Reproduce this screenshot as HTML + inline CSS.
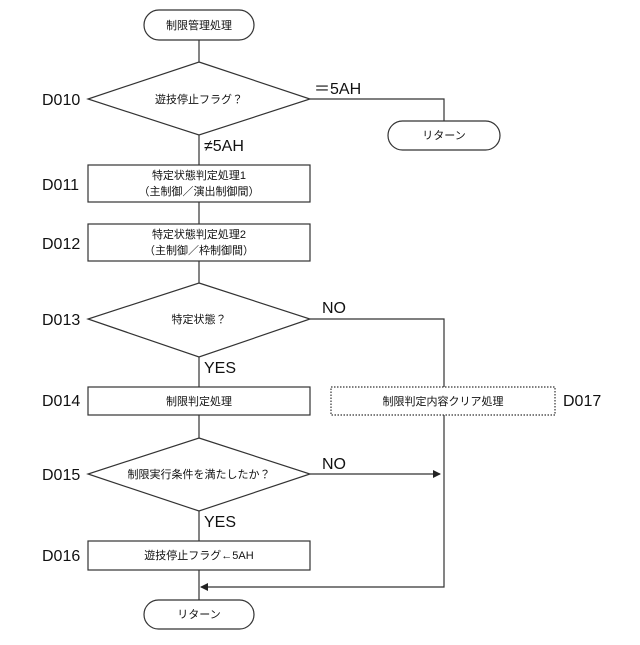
<!DOCTYPE html>
<html><head><meta charset="utf-8"><style>
html,body{margin:0;padding:0;background:#fff;}
text{font-family:"Liberation Sans","Noto Sans CJK JP",sans-serif;fill:#111;}
.s{font-size:11px;}
.l{font-size:16px;}
</style></head><body>
<svg width="640" height="640" viewBox="0 0 640 640" xmlns="http://www.w3.org/2000/svg">
<defs><marker id="a" markerWidth="8" markerHeight="8" refX="7" refY="4" orient="auto" markerUnits="userSpaceOnUse"><path d="M0,0 L8,4 L0,8 z" fill="#222"/></marker></defs>
<g stroke="#333" stroke-width="1.2" fill="none">
<rect x="144" y="10" width="110" height="30" rx="15" fill="#fff"/>
<line x1="199" y1="40" x2="199" y2="62"/>
<polygon points="199,62 310,99 199,135 88,99" fill="#fff"/>
<polyline points="310,99 444,99 444,121"/>
<rect x="388" y="121" width="112" height="29" rx="14.5" fill="#fff"/>
<line x1="199" y1="135" x2="199" y2="165"/>
<rect x="88" y="165" width="222" height="37" fill="#fff"/>
<line x1="199" y1="202" x2="199" y2="224"/>
<rect x="88" y="224" width="222" height="37" fill="#fff"/>
<line x1="199" y1="261" x2="199" y2="283"/>
<polygon points="199,283 310,319 199,357 88,319" fill="#fff"/>
<polyline points="310,319 444,319 444,387"/>
<line x1="199" y1="357" x2="199" y2="387"/>
<rect x="88" y="387" width="222" height="28" fill="#fff"/>
<rect x="331" y="387" width="224" height="28" fill="#fff" stroke-dasharray="1.5,1.5"/>
<line x1="199" y1="415" x2="199" y2="438"/>
<polygon points="199,438 310,474 199,511 88,474" fill="#fff"/>
<line x1="310" y1="474" x2="440" y2="474" marker-end="url(#a)"/>
<polyline points="444,415 444,587 201,587" marker-end="url(#a)"/>
<line x1="199" y1="511" x2="199" y2="541"/>
<rect x="88" y="541" width="222" height="29" fill="#fff"/>
<line x1="199" y1="570" x2="199" y2="600"/>
<rect x="144" y="600" width="110" height="29" rx="14.5" fill="#fff"/>
</g>
<g class="s" text-anchor="middle">
<text x="199" y="29">制限管理処理</text>
<text x="199" y="103">遊技停止フラグ？</text>
<text x="444" y="139">リターン</text>
<text x="199" y="179">特定状態判定処理1</text>
<text x="199" y="195">（主制御／演出制御間）</text>
<text x="199" y="238">特定状態判定処理2</text>
<text x="199" y="254">（主制御／枠制御間）</text>
<text x="199" y="323">特定状態？</text>
<text x="199" y="405">制限判定処理</text>
<text x="443" y="405">制限判定内容クリア処理</text>
<text x="199" y="478">制限実行条件を満たしたか？</text>
<text x="199" y="559">遊技停止フラグ←5AH</text>
<text x="199" y="618">リターン</text>
</g>
<g class="l">
<text x="42" y="105">D010</text>
<text x="42" y="190">D011</text>
<text x="42" y="249">D012</text>
<text x="42" y="325">D013</text>
<text x="42" y="406">D014</text>
<text x="42" y="480">D015</text>
<text x="42" y="561">D016</text>
<text x="563" y="406">D017</text>
<text x="314" y="94">＝5AH</text>
<text x="204" y="151">≠5AH</text>
<text x="322" y="313">NO</text>
<text x="204" y="373">YES</text>
<text x="322" y="469">NO</text>
<text x="204" y="527">YES</text>
</g>
</svg>
</body></html>
